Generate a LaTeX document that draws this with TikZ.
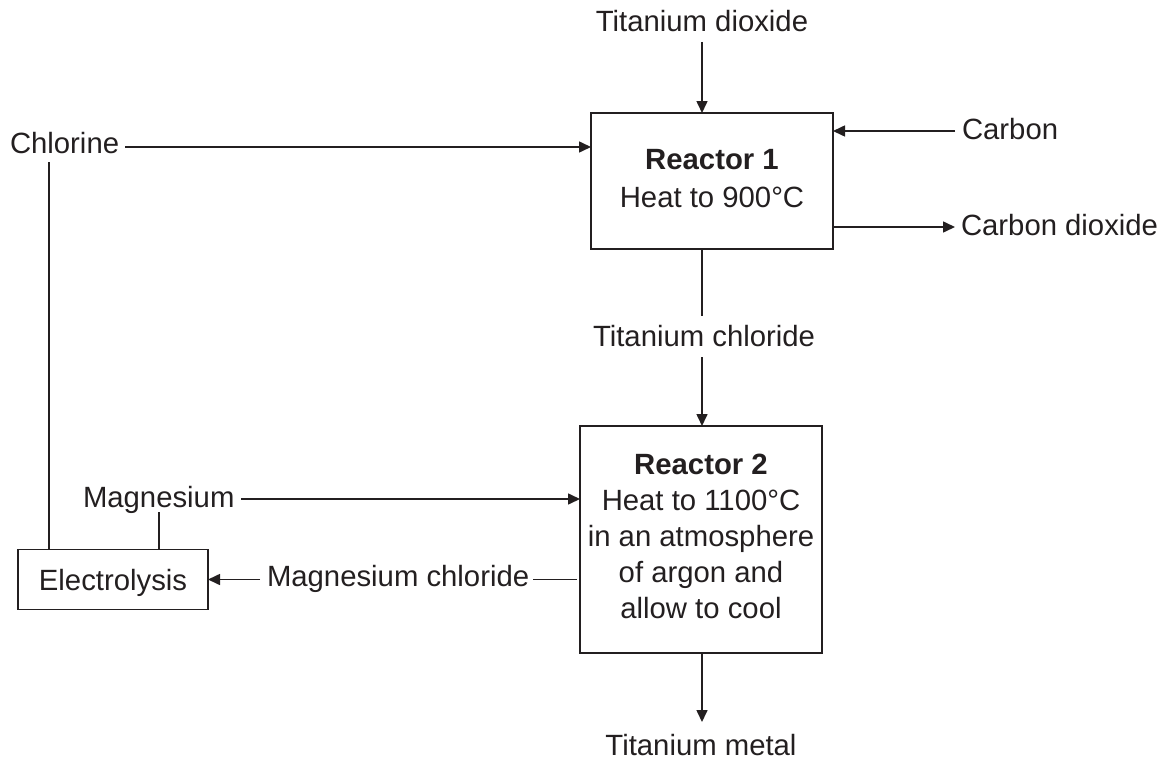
\documentclass[tikz,border=0pt]{standalone}
\usepackage{fontspec}
\setmainfont{Liberation Sans}
\usetikzlibrary{arrows.meta}
\definecolor{ink}{RGB}{35,31,32}
\begin{document}
\begin{tikzpicture}[x=1pt,y=-1pt,
  lbl/.style={inner sep=0pt,outer sep=0pt,text=ink,font=\fontsize{29.3}{34}\selectfont},
  box/.style={draw=ink,line width=1.6pt,inner sep=0pt,outer sep=0pt},
  flow/.style={draw=ink,line width=1.6pt},
  arr/.style={flow,-{Triangle[length=12pt,width=11pt]}}]
\useasboundingbox (0,0) rectangle (1165,760);

% boxes
\node[box,minimum width=242pt,minimum height=136pt] (r1) at (712,181) {};
\node[box,minimum width=242pt,minimum height=227pt] (r2) at (701,539.5) {};
\node[box,minimum width=190pt,minimum height=60pt,text=ink,
      font=\fontsize{29.3}{34}\selectfont,text height=21pt,text depth=0pt] (el) at (113,579.5) {Electrolysis};

% box texts
\node[lbl,align=center,font=\fontsize{29.3}{38}\selectfont] (r1t) at (712,178.5)
  {\textbf{Reactor 1}\\Heat to 900°C};
\node[lbl,align=center,font=\fontsize{29.3}{36}\selectfont] (r2t) at (701,536.5)
  {\textbf{Reactor 2}\\Heat to 1100°C\\in an atmosphere\\of argon and\\allow to cool};

% labels
\node[lbl,anchor=base] (td) at (702,32) {Titanium dioxide};
\node[lbl,anchor=base west] (cl) at (10,153) {Chlorine};
\node[lbl,anchor=base west] (ca) at (962,139) {Carbon};
\node[lbl,anchor=base west] (co) at (961,235) {Carbon dioxide};
\node[lbl,anchor=base] (tc) at (704,346) {Titanium chloride};
\node[lbl,anchor=base west] (mg) at (83,507) {Magnesium};
\node[lbl,anchor=base west] (mc) at (267,586) {Magnesium chloride};
\node[lbl,anchor=base] (tm) at (701,755) {Titanium metal};

% connector end points
\coordinate (tdA) at (702,42);
\coordinate (clA) at (125,147);
\coordinate (clB) at (49,162);
\coordinate (caA) at (955,131);
\coordinate (coA) at (955,227);
\coordinate (tcA) at (702,316);
\coordinate (tcB) at (702,357);
\coordinate (mgA) at (241,499);
\coordinate (mgB) at (159,512);
\coordinate (mcA) at (260,579.5);
\coordinate (mcB) at (533,579.5);
\coordinate (tmA) at (702,722);

% connectors
\draw[arr] (tdA) -- (tdA |- r1.north);
\draw[arr] (clA) -- (clA -| r1.west);
\draw[arr] (caA) -- (caA -| r1.east);
\draw[arr] (coA -| r1.east) -- (coA);
\draw[flow] (tcA |- r1.south) -- (tcA);
\draw[arr] (tcB) -- (tcB |- r2.north);
\draw[arr] (mgA) -- (mgA -| r2.west);
\draw[flow] (mgB) -- (mgB |- el.north);
\draw[flow] (clB) -- (clB |- el.north);
\draw[arr] (mcA) -- (mcA -| el.east);
\draw[flow,shorten >=3pt] (mcB) -- (mcB -| r2.west);
\draw[arr] (tmA |- r2.south) -- (tmA);
\end{tikzpicture}
\end{document}
